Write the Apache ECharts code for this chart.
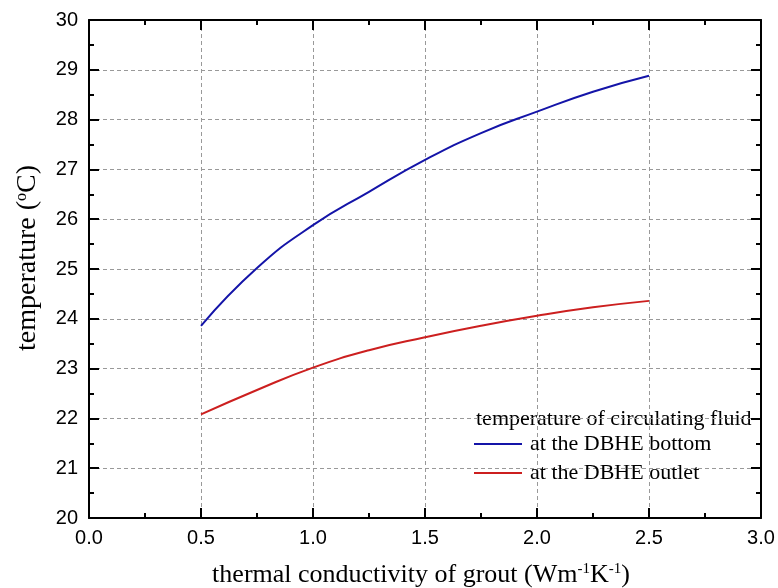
<!DOCTYPE html>
<html>
<head>
<meta charset="utf-8">
<script src="https://cdn.jsdelivr.net/npm/echarts@6/dist/echarts.min.js"></script>
<style>html,body{margin:0;padding:0;background:#fff;}#c{width:778px;height:588px;}</style>
</head>
<body>
<div id="c"></div>
<script>
var conductivity = [0.5, 0.75, 1.0, 1.25, 1.5, 1.75, 2.0, 2.25, 2.5];
var bottomTemp = [23.86, 25.02, 25.88, 26.55, 27.19, 27.73, 28.16, 28.56, 28.88];
var outletTemp = [22.08, 22.57, 23.02, 23.37, 23.63, 23.86, 24.06, 24.23, 24.36];
var seriesNames = ['at the DBHE bottom', 'at the DBHE outlet'];
var legendTitle = 'temperature of circulating fluid';

var chart = echarts.init(document.getElementById('c'));
function pairs(xs, ys){ return xs.map(function(x,i){ return [x, ys[i]]; }); }
var axisLine = {show:true, onZero:false, lineStyle:{color:'#000', width:2}};
var tickLabelFont = {fontFamily:'Liberation Sans, Arial', fontSize:20, color:'#000'};
function titleFont(size, pad){
  return {fontFamily:'Liberation Serif, Times New Roman', fontSize:size, color:'#000', padding:pad,
    rich:{sup:{fontFamily:'Liberation Serif', fontSize:Math.round(size*0.58), verticalAlign:'top', padding:[0,0,12,0], color:'#000'}}};
}
function xAx(pos, showLabel){
  return {
    type:'value', position:pos, min:0, max:3, interval:0.5,
    axisLine: axisLine,
    axisTick:{show:true, inside:true, length:10, lineStyle:{color:'#000', width:2}},
    minorTick:{show:true, splitNumber:2, length:5, lineStyle:{color:'#000', width:2}},
    axisLabel: showLabel ? Object.assign({show:true, margin:10, formatter:function(v){return v.toFixed(1);}}, tickLabelFont) : {show:false},
    splitLine: showLabel ? {show:true, lineStyle:{color:'#999', type:[4,3], width:1}} : {show:false},
    name: showLabel ? 'thermal conductivity of grout (Wm{sup|-1}K{sup|-1})' : '',
    nameLocation:'middle', nameGap:44,
    nameTextStyle: titleFont(26, [0,8,0,0])
  };
}
function yAx(pos, showLabel){
  return {
    type:'value', position:pos, min:20, max:30, interval:1,
    axisLine: axisLine,
    axisTick:{show:true, inside:true, length:10, lineStyle:{color:'#000', width:2}},
    minorTick:{show:true, splitNumber:2, length:5, lineStyle:{color:'#000', width:2}},
    axisLabel: showLabel ? Object.assign({show:true, margin:11}, tickLabelFont) : {show:false},
    splitLine: showLabel ? {show:true, lineStyle:{color:'#999', type:[4,3], width:1}} : {show:false},
    name: showLabel ? 'temperature ({sup|o}C)' : '',
    nameLocation:'middle', nameGap:47, nameRotate:90,
    nameTextStyle: titleFont(28, [0,0,0,22])
  };
}
chart.setOption({
  animation:false,
  grid:{left:89, top:20, right:17, bottom:70, containLabel:false, outerBoundsMode:'none'},
  xAxis:[xAx('bottom', true), xAx('top', false)],
  yAxis:[yAx('left', true), yAx('right', false)],
  legend:{
    data:seriesNames, orient:'vertical', left:474, top:433, itemGap:7, padding:0,
    itemWidth:48, itemHeight:22, icon:'path://M0,10 L48,10 L48,12 L0,12 Z',
    textStyle:{fontFamily:'Liberation Serif, Times New Roman', fontSize:22, color:'#000', padding:[0,0,0,3]}
  },
  graphic:[{type:'text', left:476, top:408, style:{text:legendTitle, font:'22px "Liberation Serif", "Times New Roman"', fill:'#000'}}],
  series:[
    {name:seriesNames[0], type:'line', smooth:true, showSymbol:false, data:pairs(conductivity, bottomTemp), lineStyle:{color:'#1414a8', width:2}, itemStyle:{color:'#1414a8'}},
    {name:seriesNames[1], type:'line', smooth:true, showSymbol:false, data:pairs(conductivity, outletTemp), lineStyle:{color:'#cc1f1f', width:2}, itemStyle:{color:'#cc1f1f'}}
  ]
});
</script>
</body>
</html>
